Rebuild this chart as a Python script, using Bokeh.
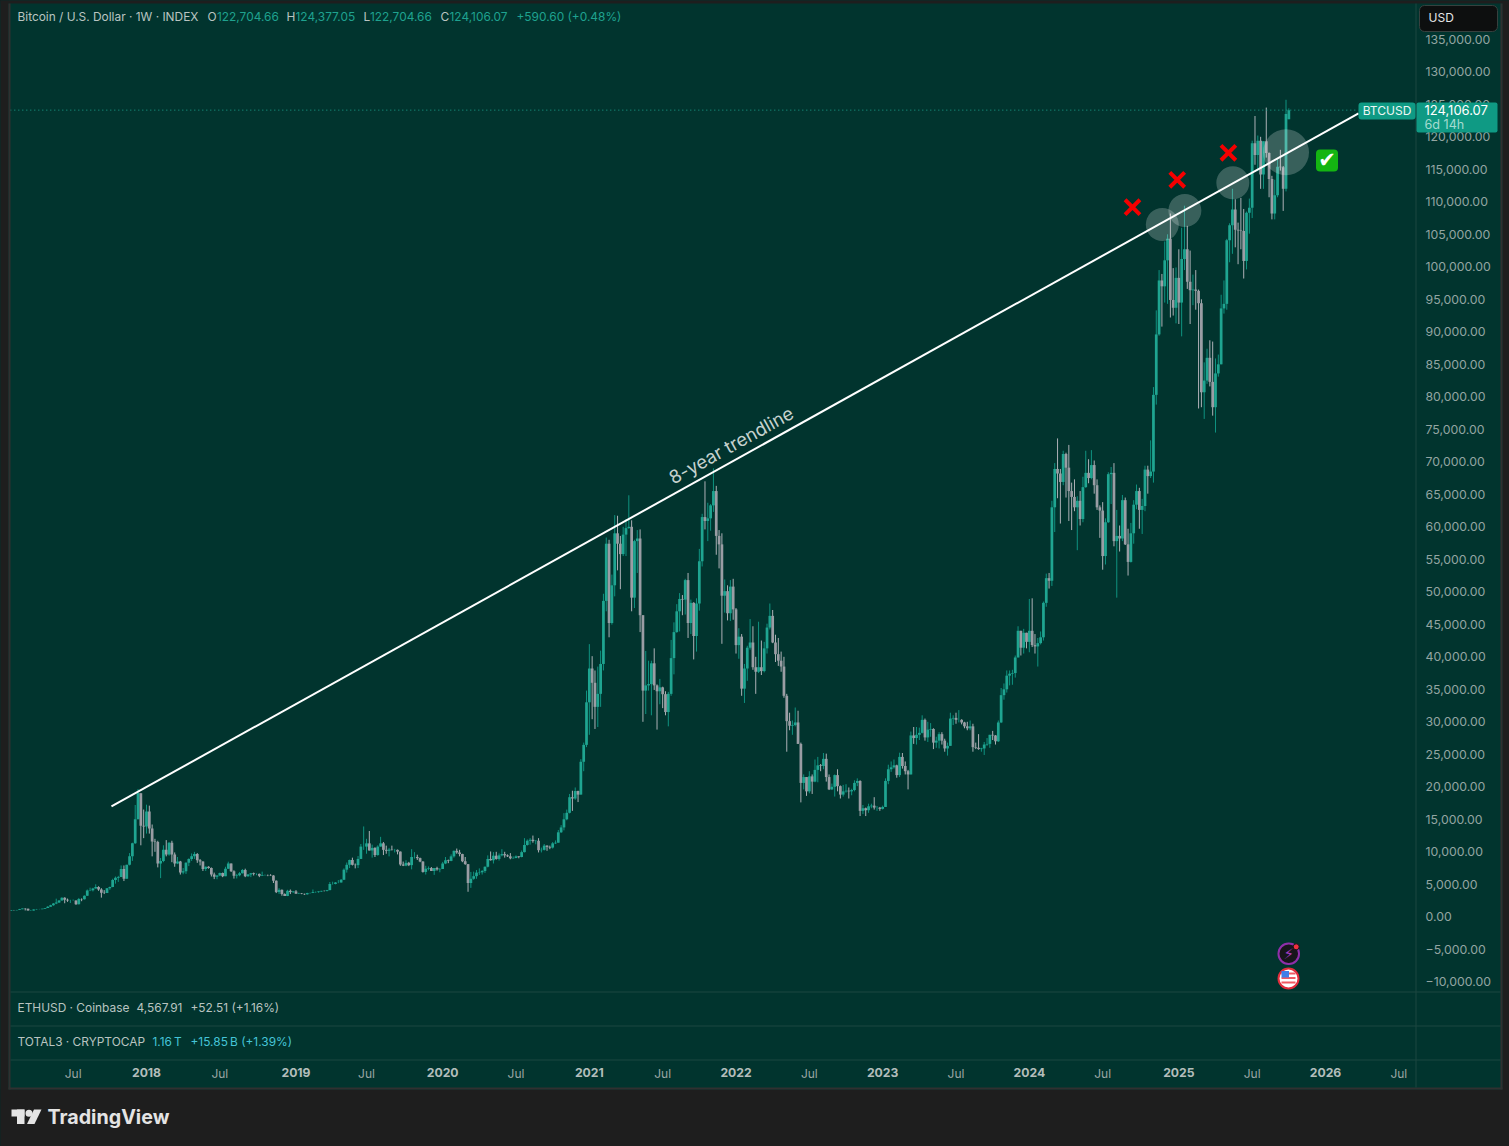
from datetime import datetime, timedelta
from bokeh.plotting import figure
from bokeh.models import (ColumnDataSource, Range1d, LinearAxis, FixedTicker, Label, BoxAnnotation,
                          PolyAnnotation)
from bokeh.embed import file_html
from bokeh.resources import INLINE

# ---------- chart values (USD, weekly candles, first week starts 2017-01-30) ----------
first_week = datetime(2017, 1, 30)
opens = [
 920,1020,1000,1050,1180,1270,1230,970,970,1125,1180,1180,1250,1350,1560,1790,2050,2200,2520,2950,2620,2500,2500,2510,1930,2750,2710,3230,4050,4080,4350,4600,4200,3690,3660,4390,4600,5680,5990,6140,7350,5860,8000,9300,11300,15000,19000,14000,
 13900,16200,13600,11600,11500,8200,8600,10300,9600,11400,9600,8200,8500,6800,7000,8300,8900,9300,9650,8700,8500,7350,7700,7500,6500,6150,6350,6750,6250,7400,8200,7000,6300,6400,6700,7200,6250,6500,6700,6600,6600,6300,6400,6430,6400,6350,5550,3800,4150,3500,3200,4000,3800,
 3900,3550,3600,3530,3460,3650,3670,3800,3800,3900,3990,3980,4100,5050,5050,5280,5280,5700,7250,8000,8740,8000,7950,8900,10800,10800,11300,10200,10600,9500,10800,11300,10300,10150,10350,10300,10300,10030,8050,7870,8300,7950,9200,9200,9030,8500,6900,7400,7500,7050,7500,7300,
 7350,8200,8700,8600,9300,10150,9900,9650,8550,8100,5200,5850,6250,6800,6850,7050,7700,8900,8700,9400,8900,9450,9650,9450,9300,9000,9050,9300,9200,9950,11050,11700,11850,11650,11700,10250,10300,10950,10750,10650,11300,11400,13000,13750,15000,16000,18400,18200,19350,18800,23850,26450,
 33000,38200,36000,32300,34300,38900,48600,57400,45200,51000,59000,57400,55800,58800,59800,60000,49100,57800,58200,46400,34800,35600,35800,39000,35600,34700,35300,34250,31500,34300,39800,43800,47000,48900,48800,51800,45200,48300,43200,48200,54700,61500,60900,61300,63300,65500,58600,57300,49400,50100,46700,50800,
 47300,41800,43100,35100,38200,41400,42200,38400,37700,38400,37800,41300,44500,46300,42200,40400,39400,38500,34000,30100,29400,29500,29900,26600,20600,21500,19300,21600,20800,22600,23300,23200,24300,21500,19600,20000,21800,20100,18800,19300,19400,19300,19500,20600,20900,16300,16700,16400,17000,17100,16800,16800,
 16600,16900,20900,22700,23000,23300,21800,24600,23200,22400,21900,27900,27500,28000,28300,30300,27600,28800,28900,26800,27100,28100,27100,25900,26300,30500,30600,30300,30300,29900,29300,29000,29300,26100,26000,25800,25900,26500,26600,28000,27900,27000,29900,34100,35000,37100,37400,37500,39900,44000,41400,43700,
 42300,44000,41800,41600,42100,43000,48300,52100,51700,63000,68900,68200,66900,71200,69100,65500,64600,63000,64000,61200,66100,68300,67500,69500,66400,63000,62500,55500,60700,68100,68300,57800,58600,58200,64100,57300,54600,59000,63400,65500,62600,63200,68800,67800,68500,80300,89600,97900,97000,101000,104300,94900,93700,
 98300,94500,101200,102700,97700,96400,96500,96300,94400,80700,82500,86000,82300,78400,83600,85000,93600,94300,104100,106400,108800,105700,105600,105500,100900,108300,109100,119000,117200,119400,114200,119300,117500,113500,108200,111000,115400,115300,112000,122705,
]
highs = [
 1040,1050,1065,1215,1290,1330,1260,1060,1150,1210,1215,1260,1360,1650,1850,2120,2790,2550,3000,3000,2800,2620,2660,2520,2900,2830,3300,4200,4480,4460,5000,4700,4400,4100,4400,4650,5850,6200,6300,7900,7900,8000,9800,11400,17200,19660,19000,16500,
 17250,17100,14200,12000,11700,9050,11000,11800,11500,11700,9900,9200,8600,7500,8400,9000,9750,9990,9800,8880,8530,7750,7780,7590,6800,6400,6800,6800,7700,8480,8200,7150,6600,6900,7350,7400,6580,6750,6800,6680,6650,6950,6500,6500,6550,6400,5600,4400,4200,3600,4150,4200,3950,
 4100,3700,3650,3560,3700,3700,4200,3900,3930,4000,4060,4140,5350,5400,5350,5650,5800,7450,8350,8800,9100,8200,9350,11200,13900,12000,13200,11100,10700,11000,12300,11500,10950,10600,10950,10450,10350,10050,8500,8700,8450,10400,9950,9550,9100,8550,7850,7750,7650,7500,7700,7500,
 8450,9200,8800,9600,10200,10500,10300,9700,9200,8100,6900,6950,7200,7450,7200,7750,9450,10050,9950,10000,9750,10400,10000,9600,9800,9300,9450,9350,10200,12100,11900,12100,12500,11800,12100,10650,11200,11000,10950,11500,11750,13350,14100,15950,16500,18900,19400,19900,19400,24250,26800,34800,
 41950,40100,37900,38500,40950,49700,58350,58000,52650,61800,61700,58600,60000,61200,64850,61000,58000,59500,59600,46400,40900,39400,39400,41300,35750,36600,35400,34700,34600,42600,45300,48100,49800,49500,52000,52900,48800,48400,49000,56600,62000,67000,63700,63500,69000,66300,59500,59000,51900,51000,51800,52000,
 47500,44400,43500,38900,41700,45800,44700,40000,45400,42500,42300,45100,48200,47200,43400,42900,40800,40000,34300,31400,30200,32200,31700,26800,21900,21500,22400,21900,24200,24600,23500,25200,25100,21900,20500,21900,22700,20200,20300,20400,19900,19700,21000,21300,21000,17200,16800,17400,17400,18400,17050,16900,
 17100,21300,23400,23900,24200,23400,25250,25200,23900,22600,28500,29200,29200,29100,31000,30500,30000,29800,29000,27700,28400,28400,27400,26800,31400,31000,31400,31800,30400,30000,30000,30200,29700,26800,28100,26000,26900,27500,28000,28600,27950,30200,35200,35900,37900,37900,38000,40200,44700,44000,44300,43700,
 48900,49000,43500,42900,43900,48500,52800,52900,64000,69800,73600,68900,71700,71400,72600,66800,67300,64700,65500,67700,71700,70400,71800,70200,67300,63300,63800,61300,68400,69200,69800,62600,60200,64900,64500,59700,60600,64100,66500,66000,64300,69400,69400,73300,81500,93300,99500,98900,103900,105000,108200,99800,99900,
 102700,106000,109400,106300,102500,98800,99500,96500,95000,85300,87400,88700,88500,85900,86500,95700,97900,104300,106700,112000,110400,106800,110600,108900,108500,110500,119400,123200,120200,120000,119300,124500,117600,114000,113400,116700,118000,115500,125700,124377,
]
lows = [
 915,960,990,1050,1170,975,950,890,950,1110,1145,1180,1230,1350,1540,1700,1950,2120,2500,2080,2300,2130,2480,1840,1900,2400,2650,3200,3950,3900,4330,4000,2950,3500,3650,4150,4550,5100,5370,6100,5500,5850,7900,8600,11200,15000,11000,12100,
 12800,12800,9300,10000,7600,5950,8400,9300,9400,8400,7700,8100,6500,6550,6600,7800,8600,8900,8300,7900,7050,7050,7400,6200,5800,5780,6250,6100,6250,7350,6900,5880,5900,6230,6650,6100,6150,6100,6350,6400,6100,6280,6380,6250,6300,5200,3650,3500,3250,3200,3180,3500,3650,
 3550,3500,3480,3370,3400,3580,3650,3680,3700,3830,3900,3900,4100,4950,5000,5170,5250,5650,6800,7500,7900,7450,7500,8900,10300,9700,10200,9100,9200,9400,10800,9500,9700,9300,10200,9900,9600,7850,7800,7780,7800,7300,8950,8750,8400,6800,6500,7150,7050,6450,7100,6850,
 7350,8100,8250,8550,9100,9700,9300,8400,8000,3850,4450,5700,5850,6450,6500,6750,7600,8650,8200,8800,8650,9300,9100,9200,8850,8950,9000,9000,9150,9900,10950,11100,11400,11150,9900,9900,10200,10150,10400,10500,11200,11400,12900,13300,14850,15900,16300,18000,17650,18800,22400,26100,
 28000,30400,28900,29200,32300,37900,47000,43000,44950,49300,53300,50400,55500,55500,59700,47000,47500,52900,43800,30000,31200,34800,31000,34900,28800,32700,32100,31000,29300,34000,37300,43700,43900,46400,46500,42900,43500,39600,40800,47100,53900,59600,57800,59400,62300,55700,53600,42000,46800,45600,45500,45700,
 40500,39700,34000,32900,36300,41100,38000,34300,37500,37200,37600,40500,44200,42100,39200,38600,37700,33700,25400,28700,28000,29300,26600,17600,19600,18600,19000,18900,20700,20700,22400,22700,20800,19500,19500,18500,19300,18200,18500,19100,18200,18700,19300,20100,15500,15800,15500,16000,16700,16500,16300,16300,
 16500,16900,20400,22300,22800,21400,21500,22800,21900,19600,21900,26600,26500,27200,28200,27100,26900,27700,25800,26000,25900,26500,25400,24800,26300,29500,29700,29900,29600,29000,28700,28700,25400,25800,25700,25400,24900,26300,26000,27200,26500,26900,29800,33400,34500,35600,35700,36800,39900,40200,40500,41300,
 40700,41500,40500,38500,41900,42500,47700,50500,50900,59200,64400,60500,66400,64500,60900,59500,62400,56400,60200,60700,66000,66700,67300,65100,62600,58300,53400,54200,60600,63500,57000,49100,56200,57800,57200,52500,54500,57400,62700,59700,58900,62400,65100,67500,66800,78800,89400,90800,94500,94300,92200,92500,91300,
 91200,89300,99500,96600,91200,94100,93400,78200,78400,76600,82000,81600,77100,74500,83100,85000,92800,93400,100700,102000,103000,100400,102700,98200,99600,105100,107500,115700,114700,112000,112000,116800,110700,107300,107300,110700,114800,108600,111600,122705,
]
closes = [
 1020,1000,1050,1180,1270,1230,970,970,1125,1180,1180,1250,1350,1560,1790,2050,2200,2520,2950,2620,2500,2500,2510,1930,2750,2710,3230,4050,4080,4350,4600,4200,3690,3660,4390,4600,5680,5990,6140,7350,5860,8000,9300,11300,15000,19000,14000,13900,
 16200,13600,11600,11500,8200,8600,10300,9600,11400,9600,8200,8500,6800,7000,8300,8900,9300,9650,8700,8500,7350,7700,7500,6500,6150,6350,6750,6250,7400,8200,7000,6300,6400,6700,7200,6250,6500,6700,6600,6600,6300,6400,6430,6400,6350,5550,3800,4150,3500,3200,4000,3800,3900,
 3550,3600,3530,3460,3650,3670,3800,3800,3900,3990,3980,4100,5050,5050,5280,5280,5700,7250,8000,8740,8000,7950,8900,10800,10800,11300,10200,10600,9500,10800,11300,10300,10150,10350,10300,10300,10030,8050,7870,8300,7950,9200,9200,9030,8500,6900,7400,7500,7050,7500,7300,7350,
 8200,8700,8600,9300,10150,9900,9650,8550,8100,5200,5850,6250,6800,6850,7050,7700,8900,8700,9400,8900,9450,9650,9450,9300,9000,9050,9300,9200,9950,11050,11700,11850,11650,11700,10250,10300,10950,10750,10650,11300,11400,13000,13750,15000,16000,18400,18200,19350,18800,23850,26450,33000,
 38200,36000,32300,34300,38900,48600,57400,45200,51000,59000,57400,55800,58800,59800,60000,49100,57800,58200,46400,34800,35600,35800,39000,35600,34700,35300,34250,31500,34300,39800,43800,47000,48900,48800,51800,45200,48300,43200,48200,54700,61500,60900,61300,63300,65500,58600,57300,49400,50100,46700,50800,47300,
 41800,43100,35100,38200,41400,42200,38400,37700,38400,37800,41300,44500,46300,42200,40400,39400,38500,34000,30100,29400,29500,29900,26600,20600,21500,19300,21600,20800,22600,23300,23200,24300,21500,19600,20000,21800,20100,18800,19300,19400,19300,19500,20600,20900,16300,16700,16400,17000,17100,16800,16800,16600,
 16900,20900,22700,23000,23300,21800,24600,23200,22400,21900,27900,27500,28000,28300,30300,27600,28800,28900,26800,27100,28100,27100,25900,26300,30500,30600,30300,30300,29900,29300,29000,29300,26100,26000,25800,25900,26500,26600,28000,27900,27000,29900,34100,35000,37100,37400,37500,39900,44000,41400,43700,42300,
 44000,41800,41600,42100,43000,48300,52100,51700,63000,68900,68200,66900,71200,69100,65500,64600,63000,64000,61200,66100,68300,67500,69500,66400,63000,62500,55500,60700,68100,68300,57800,58600,58200,64100,57300,54600,59000,63400,65500,62600,63200,68800,67800,68500,80300,89600,97900,97000,101000,104300,94900,93700,98300,
 94500,101200,102700,97700,96400,96500,96300,94400,80700,82500,86000,82300,78400,83600,85000,93600,94300,104100,106400,108800,105700,105600,105500,100900,108300,109100,119000,117200,119400,114200,119300,117500,113500,108200,111000,115400,115300,112000,123500,124106,
]
last_close = 124106.07
level_dates = [datetime(2017, 1, 28), datetime(2026, 3, 28)]

trend_dates = [datetime(2017, 10, 6), datetime(2026, 3, 28)]
trend_values = [16970, 123590]
circle_dates = [datetime(2024, 11, 26), datetime(2025, 1, 21), datetime(2025, 5, 20), datetime(2025, 9, 29)]
circle_values = [106510, 108660, 112920, 117630]
circle_sizes = [33, 33, 33, 46]
cross_dates = [datetime(2024, 9, 13), datetime(2025, 1, 2), datetime(2025, 5, 9)]
cross_values = [109170, 113380, 117540]

price_ticks = list(range(-10000, 135001, 5000))
price_labels = [("\u2212" if v < 0 else "") + f"{abs(v):,}.00" for v in price_ticks]
year_dates = [datetime(2018,1,1), datetime(2019,1,7), datetime(2020,1,6), datetime(2021,1,4), datetime(2022,1,3),
              datetime(2023,1,2), datetime(2024,1,1), datetime(2025,1,6), datetime(2026,1,5)]
year_labels = ["2018","2019","2020","2021","2022","2023","2024","2025","2026"]
month_dates = [datetime(2017,7,3), datetime(2018,7,2), datetime(2019,7,1), datetime(2020,7,6), datetime(2021,7,5),
               datetime(2022,7,4), datetime(2023,7,3), datetime(2024,7,1), datetime(2025,7,7), datetime(2026,7,6)]
month_label = "Jul"

# ---------- styling ----------
BG = "#01342e"; DARK = "#1e1e1e"; EDGE = "#303030"; SEP = "#1c4640"
UP = "#1fa591"; DOWN = "#9a9da4"; UPW = "#0f9381"; DOWNW = "#aeb1b7"
AXC = "#93a5a2"; HEAD = "#b9c4c1"; GRN = "#1fa28f"; CYAN = "#45c4d8"
FONT = "Inter"

def ms(d):
    return (d - datetime(1970, 1, 1)).total_seconds() * 1000

dates = [first_week + timedelta(days=7 * i) for i in range(len(closes))]
DAY = 86400000.0
src = ColumnDataSource(dict(
    x=[ms(d) for d in dates], o=opens, h=highs, l=lows, c=closes,
    col=[UP if c >= o else DOWN for o, c in zip(opens, closes)],
    wick=[UPW if c >= o else DOWNW for o, c in zip(opens, closes)],
))

W, H = 1509, 1146
PX_DAY = 0.40294
PX_USD = 153.85
def xdata(px):
    return ms(datetime(2018, 1, 1)) + (px - 146) / PX_DAY * DAY
def ydata(px):
    return (916.3 - px) * PX_USD

# the frame fills the canvas so that the panes outside the plotting area can be drawn; axes sit at fixed locations
p = figure(width=W, height=H, output_backend="svg", toolbar_location=None,
           x_range=Range1d(xdata(0), xdata(W)), y_range=Range1d(ydata(H), ydata(0)), x_axis_type=None, y_axis_type=None,
           min_border=0)
p.background_fill_color = BG
p.border_fill_color = BG
p.outline_line_color = None
p.grid.visible = False

ax_r = LinearAxis(ticker=FixedTicker(ticks=price_ticks), fixed_location=xdata(1415),
                  major_label_overrides=dict(zip(price_ticks, price_labels)))
ax_b = LinearAxis(ticker=FixedTicker(ticks=[ms(d) for d in year_dates]), fixed_location=ydata(991),
                  major_label_overrides={int(ms(d)): t for d, t in zip(year_dates, year_labels)})
for ax in (ax_r, ax_b):
    ax.axis_line_color = None
    ax.major_tick_line_color = None
    ax.minor_tick_line_color = None
    ax.major_label_text_font = FONT
ax_r.major_label_text_font_size = "12.3px"
ax_r.major_label_text_color = AXC
ax_r.major_label_standoff = 4
ax_b.major_label_text_font_size = "12.2px"
ax_b.major_label_text_color = "#b3bdbb"
ax_b.major_label_text_font_style = "bold"
ax_b.major_label_standoff = 70
p.add_layout(ax_r, "right")
p.add_layout(ax_b, "below")

# candles
p.segment("x", "h", "x", "l", source=src, line_color="wick", line_width=1)
p.vbar(x="x", width=6.8 * DAY, top="o", bottom="c", source=src, fill_color="col", line_color=None)

# markup
p.line([ms(d) for d in level_dates], [last_close, last_close], line_color=GRN, line_width=1, line_dash=[1, 3])
p.scatter([ms(d) for d in circle_dates], circle_values, size=circle_sizes, marker="circle",
          fill_color="#ffffff", fill_alpha=0.22, line_color=None)
p.line([ms(d) for d in trend_dates], trend_values, line_color="#ffffff", line_width=2)
p.scatter([ms(d) for d in cross_dates], cross_values, size=21, marker="x", line_color="#f40000", line_width=4)

def box(l, t, r, b, fill, line=None, radius=0, lw=1):
    p.add_layout(BoxAnnotation(left=l, right=r, top=t, bottom=b, left_units="canvas", right_units="canvas",
                               top_units="canvas", bottom_units="canvas", fill_color=fill, fill_alpha=1,
                               line_color=line, line_alpha=1 if line else 0, line_width=lw,
                               border_radius=int(round(radius)), editable=False))

def txt(x, y, s, color, size="12px", style="normal", align="left", angle=0, font=FONT):
    p.add_layout(Label(x=x, y=y, x_units="canvas", y_units="canvas", text=s, text_color=color, text_font=font,
                       text_font_size=size, text_font_style=style, text_align=align, text_baseline="middle",
                       angle=angle, angle_units="deg"))

# page surround and pane separators
box(0, 0, W, 3, DARK); box(0, 0, 8, H, DARK); box(1502, 0, W, H, DARK); box(0, 1089, W, H, DARK)
box(8, 3, 10, 1089, EDGE); box(1500, 3, 1502, 1089, EDGE); box(8, 1087, 1502, 1089, EDGE)
for yy in (991, 1025, 1059):
    box(10, yy, 1500, yy + 1, SEP)
box(1415, 3, 1416, 1087, SEP)

# price tags
box(1358, 102, 1415, 119, "#0f9a84", radius=3)
box(1416, 102, 1497, 132, "#0f9a84", radius=2)
txt(1386.5, 110, "BTCUSD", "#eef7f5", "12px", align="center")
txt(1424, 109.5, "124,106.07", "#ffffff", "13px")
txt(1424, 123.5, "6d 14h", "#a5dcd1", "12.6px")

# currency button
box(1419, 5, 1497, 31, "#0d0f0f", line="#37403e", radius=5)
txt(1428, 17, "USD", "#e4e6e6", "12px")

# header and side legends
HS = "11.9px"
txt(17, 15.5, "Bitcoin / U.S. Dollar \u00b7 1W \u00b7 INDEX", HEAD, HS)
for xx, s in ((207, "O"), (286, "H"), (363, "L"), (440, "C")):
    txt(xx, 15.5, s, HEAD, HS)
for xx, s in ((216.5, "122,704.66"), (295, "124,377.05"), (369.5, "122,704.66"), (449, "124,106.07"),
              (516, "+590.60 (+0.48%)")):
    txt(xx, 15.5, s, GRN, HS)
txt(17, 1006.5, "ETHUSD \u00b7 Coinbase", HEAD, HS)
txt(136, 1006.5, "4,567.91", HEAD, HS)
txt(190, 1006.5, "+52.51 (+1.16%)", HEAD, HS)
txt(17, 1040.5, "TOTAL3 \u00b7 CRYPTOCAP", HEAD, HS)
txt(152, 1040.5, "1.16\u2009T", CYAN, HS)
txt(190, 1040.5, "+15.85\u2009B (+1.39%)", CYAN, HS)

# month labels on the time scale (years are on the axis)
for d in month_dates:
    p.add_layout(Label(x=ms(d), y=1072.5, x_units="data", y_units="canvas", text=month_label, text_color="#9aa6a4",
                       text_font=FONT, text_font_size="12px", text_align="center", text_baseline="middle"))

# trendline caption
txt(730.5, 444.5, "8-year trendline", "#c6d2ce", "18.4px", align="center", angle=29)

# check mark
box(1315.5, 149, 1337.5, 171, "#14b512", radius=4)
txt(1326.5, 159.5, "\u2714", "#ffffff", "21px", align="center", font="DejaVu Sans")

# event markers
box(1278, 943, 1298.5, 963.5, "#17151b", line="#8f2fa9", radius=10, lw=2)
txt(1288.3, 953, "\u26a1", "#a63cc4", "15px", align="center", font="DejaVu Sans")
box(1292.7, 943.3, 1298.7, 949.3, "#f2303f", line="#17151b", radius=3, lw=1)
box(1278, 968, 1298, 988, "#ffffff", line="#e22d3c", radius=10, lw=2)
for yy in (972, 976.5, 981):
    box(1281, yy, 1295, yy + 2, "#ef5a63")
box(1281, 970.5, 1288.5, 977, "#3f7fe8")

# logo
box(11, 1109, 24, 1116, "#e4e4e4")
box(16.5, 1109, 24, 1123.5, "#e4e4e4")
box(25, 1109.2, 32, 1116.2, "#e4e4e4", radius=4)
p.add_layout(PolyAnnotation(xs=[33.5, 41, 34, 26.5], ys=[1109, 1109, 1123.5, 1123.5], xs_units="canvas",
                            ys_units="canvas", fill_color="#e4e4e4", fill_alpha=1, line_alpha=0))
txt(47, 1116.5, "TradingView", "#e4e4e4", "19.7px", "bold")

html = file_html(p, INLINE)
html = html.replace("<head>", "<head><style>html,body{margin:0;padding:0;background:#1e1e1e;overflow:hidden}</style>", 1)
open("out.html", "w").write(html)
